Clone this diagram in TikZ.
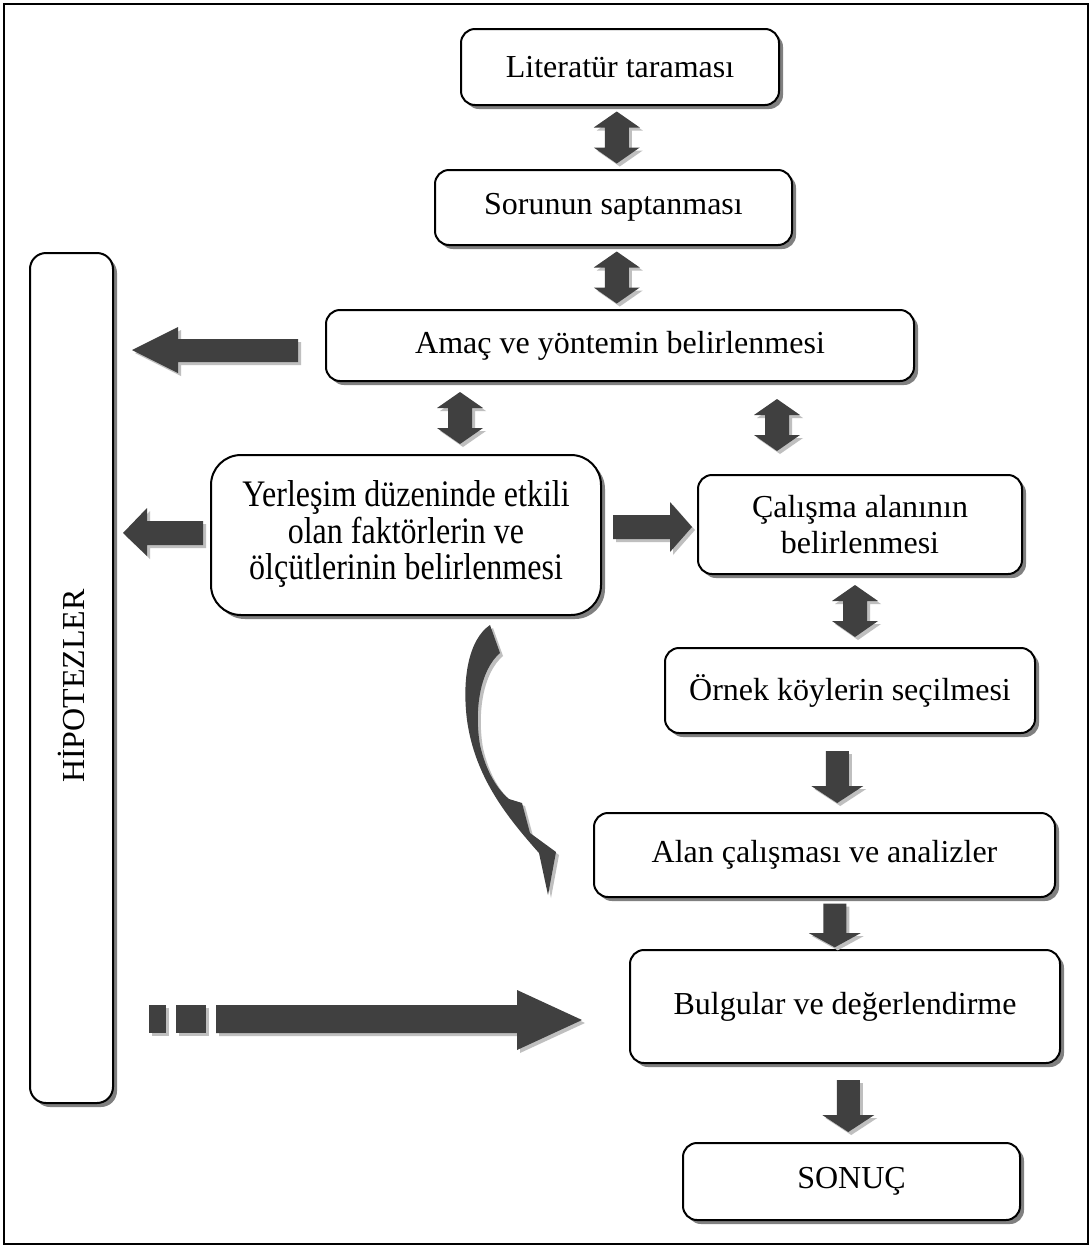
\documentclass[tikz,border=0pt]{standalone}
\usepackage{fontspec}
\usepackage{graphicx}
\setmainfont{Liberation Serif}
\usetikzlibrary{calc,shadows}
\begin{document}
\begin{tikzpicture}[x=1pt,y=-1pt,
  box/.style={draw=black, line width=2pt, fill=white, rounded corners=14pt, align=center,
    font=\fontsize{32}{36}\selectfont, inner sep=0pt,
    drop shadow={shadow xshift=4pt, shadow yshift=-4pt, fill=black!50, opacity=1}},
  afill/.style={fill=black!75, preaction={fill=black!25, transform canvas={xshift=3pt,yshift=-3pt}}},
  dblv/.pic={\fill[afill] (0,-26) -- (23,-10) -- (12,-10) -- (12,10) -- (23,10) -- (0,26) -- (-23,10) -- (-12,10) -- (-12,-10) -- (-23,-10) -- cycle;},
  downarr/.pic={\fill[afill] (-11.5,-26) -- (11.5,-26) -- (11.5,9) -- (26,9) -- (0,26) -- (-26,9) -- (-11.5,9) -- cycle;}
]
\useasboundingbox (0,0) rectangle (1092,1248);
\fill[white] (0,0) rectangle (1092,1248);
\draw[line width=2.5pt] (4,4) rectangle (1088,1244);

\node[box, minimum width=318pt, minimum height=76pt] (lit) at (620,67) {Literatür taraması};
\node[box, minimum width=357pt, minimum height=75pt] (sor) at (613.5,207.5) {Sorunun saptanması};
\node[box, minimum width=588pt, minimum height=71pt] (amac) at (620,345.5) {Amaç ve yöntemin belirlenmesi};
\node[box, minimum width=83pt, minimum height=850pt, rounded corners=16pt] (hyp) at (71.5,678) {\rotatebox{90}{HİPOTEZLER\hspace{16pt}}};
\node[box, minimum width=390pt, minimum height=160pt, rounded corners=30pt] (yer) at (406,535)
  {\scalebox{1}[1.17]{\fontsize{32}{29}\selectfont\begin{tabular}{@{}c@{}}Yerleşim düzeninde etkili\\olan faktörlerin ve\\ölçütlerinin belirlenmesi\end{tabular}}};
\node[box, minimum width=324pt, minimum height=99pt] (cal) at (860,524.5) {Çalışma alanının\\belirlenmesi};
\node[box, minimum width=370pt, minimum height=85pt] (orn) at (850,690.5) {Örnek köylerin seçilmesi};
\node[box, minimum width=461pt, minimum height=84pt] (alan) at (824.5,855) {Alan çalışması ve analizler};
\node[box, minimum width=430pt, minimum height=113pt] (bul) at (845,1006.5) {Bulgular ve değerlendirme};
\node[box, minimum width=337pt, minimum height=77pt] (son) at (851.5,1181.5) {SONUÇ};

% double arrows
\pic at ($(lit.south)!.5!(sor.north)$) {dblv};
\pic at ($(sor.south)!.5!(amac.north)$) {dblv};
\pic at (460,418) {dblv};
\pic at (777,425) {dblv};
\pic at ($(cal.south)!.5!(orn.north)$) {dblv};

% down arrows
\pic at ($(orn.south)!.5!(alan.north)+(0,4)$) {downarr};
\pic[yscale=0.84] at ($(alan.south)!.5!(bul.north)+(0,2)$) {downarr};
\pic at ($(bul.south)!.5!(son.north)+(0,3)$) {downarr};

% left arrows to hypotheses
\fill[afill] (298,339) -- (178,339) -- (178,327) -- (132,350) -- (178,373) -- (178,362) -- (298,362) -- cycle;
\fill[afill] (203,521) -- (147,521) -- (147,508) -- (123,533) -- (147,556) -- (147,545) -- (203,545) -- cycle;
% right arrow
\fill[afill] (613,515) -- (670,515) -- (670,502) -- (692,527) -- (670,552) -- (670,539) -- (613,539) -- cycle;

% dashed arrow
\fill[afill] (149,1005) rectangle (166,1033);
\fill[afill] (176,1005) rectangle (206,1033);
\fill[afill] (216,1005) -- (517,1005) -- (517,990) -- (582,1020) -- (517,1050) -- (517,1033) -- (216,1033) -- cycle;

% curved arrow
\fill[afill] (490,625) -- (500,653)
  .. controls (480,670) and (474,710) .. (480,745)
  .. controls (486,772) and (498,790) .. (509,799)
  -- (522,803) -- (530,833) -- (556,852) -- (548,895) -- (539,853)
  .. controls (508,818) and (475,778) .. (467,720)
  .. controls (462,680) and (468,640) .. cycle;
\end{tikzpicture}
\end{document}
